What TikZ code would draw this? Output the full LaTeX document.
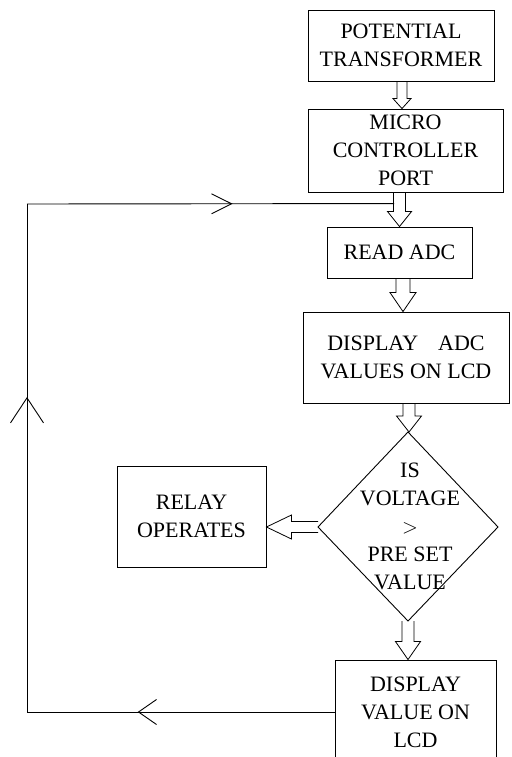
\documentclass[tikz,border=0pt]{standalone}
\usepackage{fontspec}
\setmainfont{Liberation Serif}
\usetikzlibrary{calc,arrows.meta,decorations.markings}
\newcommand\hdown[6]{\draw[hollow] let \p1=(#1), \p2=(#2) in
  (#3-#4pt,\y1) -- (#3-#4pt,\y2+#6pt) -- (#3-#5pt,\y2+#6pt) -- (#3,\y2)
  -- (#3+#5pt,\y2+#6pt) -- (#3+#4pt,\y2+#6pt) -- (#3+#4pt,\y1);}
\begin{document}
\begin{tikzpicture}[x=1pt,y=-1pt,
  box/.style={draw, line width=0.9pt, inner sep=0pt, align=center, font=\fontsize{22}{28}\selectfont},
  lbl/.style={inner sep=0pt, align=center, font=\fontsize{22}{28}\selectfont},
  hollow/.style={line width=0.8pt, line join=miter},
  flow/.style={line width=0.9pt, postaction={decorate}}]
\useasboundingbox (0,0) rectangle (511,757);
\clip (0,0) rectangle (511,757);
% boxes
\node[box, minimum width=186pt, minimum height=71pt] (pt) at (401,45.5) {POTENTIAL\\TRANSFORMER};
\node[box, minimum width=195pt, minimum height=83pt] (mc) at (405.5,150.5) {MICRO\\CONTROLLER\\PORT};
\node[box, minimum width=145pt, minimum height=51pt] (read) at (399.5,252.5) {READ ADC};
\node[box, minimum width=206pt, minimum height=91pt] (dadc) at (406,357.5) {DISPLAY\hspace{20pt}ADC\\VALUES ON LCD};
\node[box, minimum width=149pt, minimum height=101pt] (relay) at (191.5,516.5) {RELAY\\OPERATES};
\node[box, minimum width=161pt, minimum height=104pt] (dv) at (415.5,712) {DISPLAY\\VALUE ON\\LCD};
% decision
\node[lbl] (dia) at (410,526) {IS\\VOLTAGE\\$>$\\PRE SET\\VALUE};
\coordinate (dtop) at (408,432);
\coordinate (dright) at (498,527);
\coordinate (dbot) at (408,621);
\coordinate (dleft) at (318,527);
\draw[line width=0.9pt] (dtop) -- (dright) -- (dbot) -- (dleft) -- cycle;
% hollow arrows
\hdown{pt.south}{mc.north}{\x1+1pt}{5}{9}{10}
\hdown{mc.south}{read.north}{\x2}{6}{12}{15}
\hdown{read.south}{dadc.north}{\x1+3.5pt}{7}{13}{19}
\hdown{dadc.south}{dtop}{\x2+1pt}{6}{12.5}{16}
\hdown{dbot}{dv.north}{\x1}{6}{12.5}{18}
\draw[hollow] let \p1=(dleft), \p2=(relay.east) in
  (\x1,\y1+5.5pt) -- (\x2+25pt,\y1+5.5pt) -- (\x2+25pt,\y1+12pt) -- (\x2,\y1)
  -- (\x2+25pt,\y1-12pt) -- (\x2+25pt,\y1-5.5pt) -- (\x1,\y1-5.5pt);
% feedback loop
\coordinate (ll) at (27,712);
\coordinate (ul) at (27,204);
\coordinate (join) at ($(read.north)+(-5.5,-23)$);
\draw[flow, decoration={markings, mark=at position 0.64 with {\arrow{Straight Barb[length=18pt,width=25pt,line width=0.9pt]}}}] (dv.west) -- (ll);
\draw[flow, decoration={markings, mark=at position 0.62 with {\arrow{Straight Barb[length=25pt,width=33pt,line width=0.9pt]}}}] (ll) -- (ul);
\draw[flow, decoration={markings, mark=at position 0.56 with {\arrow{Straight Barb[length=20pt,width=20pt,line width=0.9pt]}}}] (ul) -- (join);
\end{tikzpicture}
\end{document}
